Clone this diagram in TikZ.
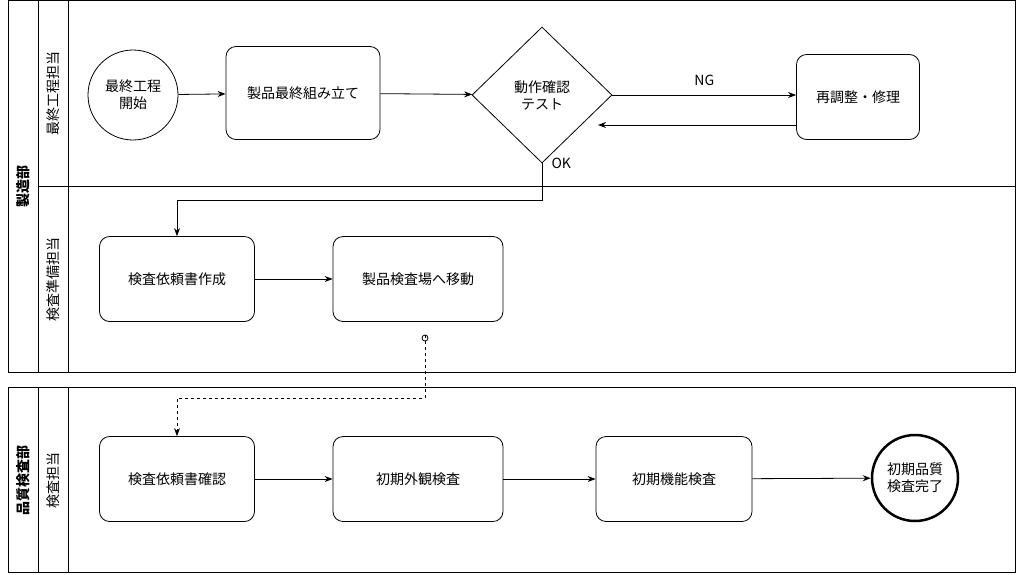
\documentclass[tikz,border=0pt]{standalone}
\usepackage{fontspec}
\setmainfont{Noto Sans CJK JP}
\usetikzlibrary{shapes.geometric,arrows.meta,positioning}

\begin{document}
\begin{tikzpicture}[
    x=1pt, y=-1pt,
    font=\fontsize{14}{17}\selectfont,
    task/.style={rectangle, draw, rounded corners=10pt, thick, align=center},
    decide/.style={diamond, draw, thick, align=center, minimum width=140pt, minimum height=136pt, inner sep=0pt},
    event/.style={circle, draw, thick, align=center, minimum size=90pt, inner sep=0pt},
    arrow/.style={-{Stealth[length=8pt,width=6pt]}, thick},
    lanetext/.style={rotate=90, font=\fontsize{14}{17}\selectfont}
]
    \useasboundingbox (0,0) rectangle (1024,574);
    % pools and lanes
    \draw[thick] (8,0) rectangle (1015,372);
    \draw[thick] (38,0) -- (38,372);
    \draw[thick] (68,0) -- (68,372);
    \draw[thick] (38,186) -- (1015,186);
    \draw[thick] (8,387) rectangle (1015,572);
    \draw[thick] (38,387) -- (38,572);
    \draw[thick] (68,387) -- (68,572);
    \node[lanetext, font=\bfseries\fontsize{14}{17}\selectfont] (pool1) at (23,186) {製造部};
    \node[lanetext] (lane1) at (53,93) {最終工程担当};
    \node[lanetext] (lane2) at (53,279) {検査準備担当};
    \node[lanetext, font=\bfseries\fontsize{14}{17}\selectfont] (pool2) at (23,480) {品質検査部};
    \node[lanetext] (lane3) at (53,480) {検査担当};

    % nodes
    \node[event] (start) at (133,95) {最終工程\\開始};
    \node[task, minimum width=154pt, minimum height=93pt] (assemble) at (303,93) {製品最終組み立て};
    \node[decide] (test) at (542,95) {動作確認\\テスト};
    \node[task, minimum width=123pt, minimum height=85pt] (repair) at (858,97) {再調整・修理};
    \node[task, minimum width=155pt, minimum height=85pt] (request) at (177,279) {検査依頼書作成};
    \node[task, minimum width=170pt, minimum height=85pt] (move) at (418,279) {製品検査場へ移動};
    \node[task, minimum width=155pt, minimum height=85pt] (check) at (177,479) {検査依頼書確認};
    \node[task, minimum width=170pt, minimum height=85pt] (visual) at (418,479) {初期外観検査};
    \node[task, minimum width=156pt, minimum height=85pt] (func) at (674,479) {初期機能検査};
    \node[event, line width=2.5pt, minimum size=86pt] (finish) at (915,478) {初期品質\\検査完了};
    \coordinate (msg) at (425,338);

    % connectors
    \draw[arrow] (start) -- (assemble);
    \draw[arrow] (assemble) -- (test);
    \draw[arrow] (test.east) -- node[above=6pt] {NG} (repair.west |- test.east);
    \draw[arrow] (repair.west |- 0,125) -- (598,125);
    \draw[arrow] (test.south) -- (542,200) -| (request.north);
    \node[anchor=west] (ok) at (548,163) {OK};
    \draw[arrow] (request) -- (move);
    \draw[thick] (msg) circle (3pt);
    \draw[arrow, dashed] ([yshift=3pt]msg) -- (425,398) -| (check.north);
    \draw[arrow] (check) -- (visual);
    \draw[arrow] (visual) -- (func);
    \draw[arrow] (func) -- (finish);
\end{tikzpicture}
\end{document}
